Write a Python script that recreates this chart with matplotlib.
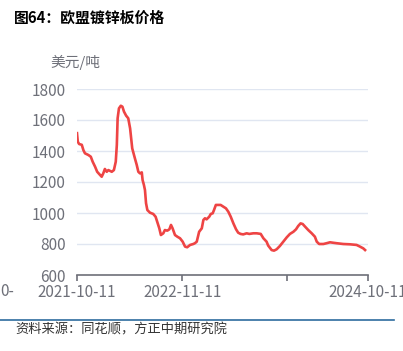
import pandas as pd
import matplotlib
matplotlib.use("Agg")
import matplotlib.pyplot as plt

plt.rcParams['font.family'] = ['Noto Sans CJK SC', 'DejaVu Sans']

# EU galvanized sheet price, USD/t
dates = [
    "2021-10-11", "2021-10-14", "2021-10-19", "2021-10-29", "2021-11-04", "2021-11-10",
    "2021-11-23", "2021-12-02", "2021-12-09", "2021-12-18", "2021-12-26", "2022-01-06",
    "2022-01-12", "2022-01-18", "2022-01-24", "2022-01-31", "2022-02-06", "2022-02-19",
    "2022-02-27", "2022-03-06", "2022-03-10", "2022-03-13", "2022-03-18", "2022-03-25",
    "2022-03-31", "2022-04-06", "2022-04-14", "2022-04-22", "2022-04-29", "2022-05-07",
    "2022-05-17", "2022-05-24", "2022-05-30", "2022-06-05", "2022-06-12", "2022-06-15",
    "2022-06-20", "2022-06-24", "2022-06-28", "2022-07-03", "2022-07-13", "2022-07-25",
    "2022-08-03", "2022-08-09", "2022-08-17", "2022-08-23", "2022-09-01", "2022-09-07",
    "2022-09-16", "2022-09-24", "2022-09-30", "2022-10-06", "2022-10-15", "2022-10-24",
    "2022-11-03", "2022-11-13", "2022-11-22", "2022-11-30", "2022-12-11", "2022-12-23",
    "2022-12-29", "2023-01-05", "2023-01-14", "2023-01-24", "2023-01-30", "2023-02-05",
    "2023-02-11", "2023-02-21", "2023-02-27", "2023-03-06", "2023-03-11", "2023-03-18",
    "2023-03-27", "2023-04-05", "2023-04-15", "2023-04-25", "2023-05-04", "2023-05-13",
    "2023-05-23", "2023-06-02", "2023-06-10", "2023-06-19", "2023-06-29", "2023-07-12",
    "2023-07-22", "2023-08-06", "2023-08-19", "2023-09-03", "2023-09-13", "2023-09-25",
    "2023-10-01", "2023-10-14", "2023-10-23", "2023-11-02", "2023-11-14", "2023-11-27",
    "2023-12-10", "2023-12-22", "2024-01-04", "2024-01-14", "2024-01-22", "2024-01-31",
    "2024-02-08", "2024-02-17", "2024-02-29", "2024-03-13", "2024-03-25", "2024-04-01",
    "2024-04-10", "2024-04-26", "2024-05-08", "2024-05-21", "2024-06-02", "2024-06-15",
    "2024-07-10", "2024-08-04", "2024-08-29", "2024-09-11", "2024-09-23", "2024-09-30",
]
prices = [
    1515, 1460, 1445, 1440, 1406, 1385,
    1374, 1363, 1331, 1299, 1266, 1245,
    1234, 1256, 1284, 1266, 1277, 1266,
    1277, 1331, 1439, 1611, 1675, 1692,
    1686, 1654, 1628, 1611, 1546, 1417,
    1353, 1310, 1266, 1256, 1262, 1213,
    1181, 1148, 1063, 1019, 1002, 994,
    976, 944, 901, 858, 869, 890,
    886, 895, 923, 901, 858, 847,
    837, 815, 783, 779, 794, 800,
    805, 815, 879, 901, 955, 966,
    959, 976, 994, 998, 1019, 1052,
    1052, 1052, 1041, 1030, 1008, 976,
    933, 895, 873, 865, 862, 869,
    865, 869, 869, 865, 837, 815,
    790, 761, 757, 766, 787, 815,
    843, 865, 879, 895, 916, 933,
    929, 912, 890, 869, 847, 815,
    800, 800, 805, 811, 808, 805,
    800, 798, 794, 783, 772, 761,
]

tick_dates = ["2021-10-11", "2022-11-11", "2023-12-11", "2024-10-11"]
tick_labels = ["2021-10-11", "2022-11-11", "", "2024-10-11"]
y_ticks = [600, 800, 1000, 1200, 1400, 1600, 1800]

x = pd.to_datetime(dates)

fig = plt.figure(figsize=(4.03, 3.51), dpi=100)
ax = fig.add_axes([77 / 403, 76 / 351, 291 / 403, 186 / 351])

ax.plot(x, prices, color="#ee4444", linewidth=1.9)

ax.set_xlim(pd.Timestamp(tick_dates[0]), pd.Timestamp(tick_dates[-1]))
ax.set_ylim(600, 1800)
ax.set_yticks(y_ticks)
ax.set_xticks(pd.to_datetime(tick_dates))
ax.set_xticklabels(tick_labels)

ax.grid(axis="y", color="#e0e6f1", linewidth=1.0)
ax.set_axisbelow(True)
for s in ["left", "right", "top"]:
    ax.spines[s].set_visible(False)
ax.spines["bottom"].set_color("#6e7079")
ax.spines["bottom"].set_linewidth(1.2)
ax.tick_params(axis="y", length=0, pad=8, labelsize=11, labelcolor="#6e7079")
ax.tick_params(axis="x", length=4.5, width=1.2, color="#6e7079", pad=2,
               labelsize=11, labelcolor="#6e7079")

fig.text(14 / 403, 1 - 18 / 351, "图64：欧盟镀锌板价格", fontsize=10.7,
         fontweight="bold", color="#000000", va="center", ha="left")
fig.text(50 / 403, 1 - 62 / 351, "美元/吨", fontsize=10.6, color="#6e7079",
         va="center", ha="left")
fig.text(0, 1 - 291 / 351, "0-", fontsize=11, color="#6e7079", va="center", ha="left")

fig.add_artist(plt.Line2D([0, 394 / 403], [1 - 320 / 351, 1 - 320 / 351],
                          color="#2e6c9e", linewidth=1.2))
fig.text(15 / 403, 1 - 330 / 351, "资料来源：同花顺，方正中期研究院", fontsize=9.5,
         color="#333333", va="center", ha="left")

fig.savefig("out.png", dpi=100)
